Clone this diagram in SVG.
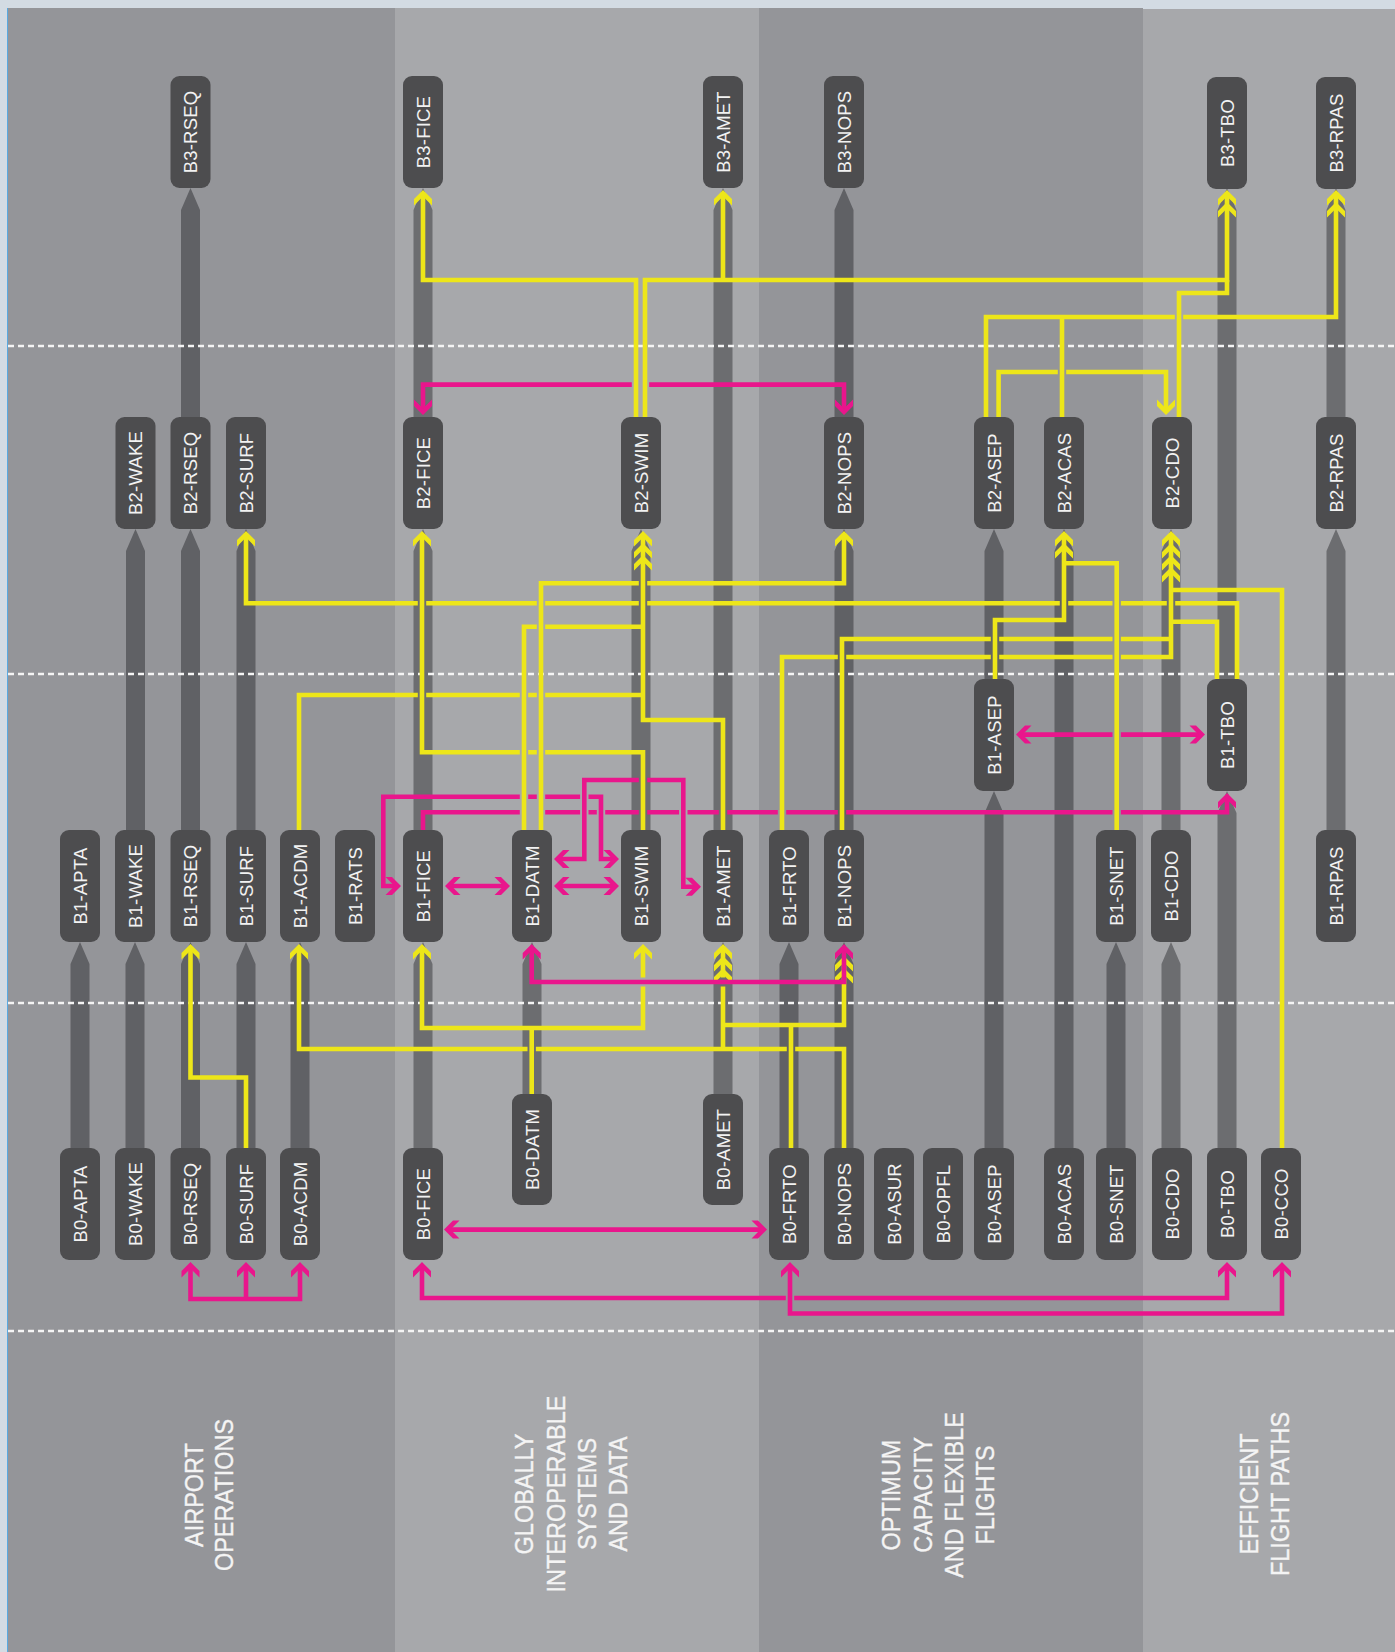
<svg xmlns="http://www.w3.org/2000/svg" xmlns:xlink="http://www.w3.org/1999/xlink" width="1395" height="1652" viewBox="0 0 1395 1652">
<style>
.bd{fill:#949599}.bl{fill:#a7a8ab}
.sd{fill:#606165}.sl{fill:#6c6d70}
.node rect{fill:#4d4d4f}
.node text{font-family:"Liberation Sans",Arial,sans-serif;font-size:18.5px;letter-spacing:0.2px;fill:#f2f2f2;text-anchor:middle}
.y{fill:none;stroke:#ede619;stroke-width:4.6;stroke-linejoin:miter}
.m{fill:none;stroke:#e9168c;stroke-width:4.6;stroke-linejoin:miter}
.cy{fill:#ede619}.cm{fill:#e9168c}
.dash{stroke:#f4f4f4;stroke-width:2.6;stroke-dasharray:6 4;fill:none}
.lbl text{font-family:"Liberation Sans",Arial,sans-serif;font-size:25.5px;fill:#f4f4f4;stroke:#f4f4f4;stroke-width:0.35;text-anchor:middle}
</style>
<defs>
<path id="ch" d="M0,0 L9,9 L9,15.5 L0,6.5 L-9,15.5 L-9,9 Z"/>
</defs>
<g id="background">
<rect x="0" y="0" width="1395" height="1652" fill="#d3dbe3"/>
<rect x="7" y="8" width="388" height="1644" class="bd"/>
<rect x="395" y="8" width="364" height="1644" class="bl"/>
<rect x="759" y="8" width="384" height="1644" class="bd"/>
<rect x="1143" y="9" width="252" height="1643" class="bl"/>
<line x1="7.5" y1="8" x2="7.5" y2="1652" stroke="#5aa9e0" stroke-width="1"/>
</g>
<g id="stems">
<path class="sd" d="M70.5,1152 V964 L80,942 L89.5,964 V1152 Z M125.5,1152 V964 L135,942 L144.5,964 V1152 Z M126,834 V551 L135.5,529 L145,551 V834 Z M181,1152 V964 L190.5,942 L200,964 V1152 Z M181,834 V551 L190.5,529 L200,551 V834 Z M181,421 V210 L190.5,188 L200,210 V421 Z M236.5,1152 V964 L246,942 L255.5,964 V1152 Z M236.5,834 V551 L246,529 L255.5,551 V834 Z M290.5,1152 V964 L300,942 L309.5,964 V1152 Z"/>
<path class="sl" d="M413.5,1152 V964 L423,942 L432.5,964 V1152 Z M413.5,834 V551 L423,529 L432.5,551 V834 Z M413.5,421 V210 L423,188 L432.5,210 V421 Z M522.5,1098 V964 L532,942 L541.5,964 V1098 Z M631.5,834 V551 L641,529 L650.5,551 V834 Z M713.5,1098 V964 L723,942 L732.5,964 V1098 Z M713.5,834 V210 L723,188 L732.5,210 V834 Z"/>
<path class="sd" d="M779.5,1152 V964 L789,942 L798.5,964 V1152 Z M834.5,1152 V964 L844,942 L853.5,964 V1152 Z M834.5,834 V551 L844,529 L853.5,551 V834 Z M834.5,421 V210 L844,188 L853.5,210 V421 Z M984.5,1152 V813 L994,791 L1003.5,813 V1152 Z M984.5,683 V551 L994,529 L1003.5,551 V683 Z M1054.5,1152 V551 L1064,529 L1073.5,551 V1152 Z M1106.5,1152 V964 L1116,942 L1125.5,964 V1152 Z"/>
<path class="sl" d="M1161.5,1152 V964 L1171,942 L1180.5,964 V1152 Z M1161.5,834 V551 L1171,529 L1180.5,551 V834 Z M1217.5,1152 V813 L1227,791 L1236.5,813 V1152 Z M1217.5,683 V210 L1227,188 L1236.5,210 V683 Z M1326.5,834 V551 L1336,529 L1345.5,551 V834 Z M1326.5,421 V210 L1336,188 L1345.5,210 V421 Z"/>
</g>
<g id="dividers">
<line class="dash" x1="8" y1="346" x2="1395" y2="346"/>
<line class="dash" x1="8" y1="674" x2="1395" y2="674"/>
<line class="dash" x1="8" y1="1003" x2="1395" y2="1003"/>
<line class="dash" x1="8" y1="1331" x2="1395" y2="1331"/>
</g>
<g id="connectors">
<path class="y" d="M636,417 V280 H423 V195"/>
<path class="y" d="M645,417 V280 H1227 V195 M723,280 V195"/>
<path class="y" d="M1179,417 V293 H1227 V280"/>
<path class="y" d="M986,417 V317 H1174.8 M1183.2,317 H1336 V195"/>
<path class="y" d="M1062,417 V317"/>
<path class="y" d="M998.6,417 V372 H1057.8 M1066.2,372 H1166 V410"/>
<path class="y" d="M1237,679 V603.3 H1175.2 M1166.8,603.3 H1120.9 M1112.5,603.3 H1068.2 M1059.8,603.3 H647.2 M638.8,603.3 H545.2 M536.8,603.3 H426.2 M417.8,603.3 H246 V536"/>
<path class="y" d="M541,830 V583.3 H638.8 M647.2,583.3 H844 V536"/>
<path class="y" d="M524,830 V626.7 H536.8 M545.2,626.7 H643"/>
<path class="y" d="M299,830 V695 H417.8 M426.2,695 H519.8 M528.2,695 H536.8 M545.2,695 H643"/>
<path class="y" d="M723,830 V720 H643 V536"/>
<path class="y" d="M643,830 V752.3 H545.2 M536.8,752.3 H528.2 M519.8,752.3 H422 V536"/>
<path class="y" d="M995,679 V620 H1064 V536"/>
<path class="y" d="M1116.7,830 V563.3 H1064"/>
<path class="y" d="M842,830 V639 H990.8 M999.2,639 H1112.5 M1120.9,639 H1171"/>
<path class="y" d="M782,830 V657 H837.8 M846.2,657 H990.8 M999.2,657 H1112.5 M1120.9,657 H1171 V536"/>
<path class="y" d="M1217,679 V621.7 H1171"/>
<path class="y" d="M1282,1148 V590 H1171"/>
<path class="y" d="M422,949 V1028 H643 V986.6 M643,977.4 V949"/>
<path class="y" d="M531.7,1094 V1028"/>
<path class="y" d="M844,1148 V1049 H795.2 M786.8,1049 H535.9 M527.5,1049 H299 V949 M723,1049 V986.6 M723,977.4 V949"/>
<path class="y" d="M791,1148 V1025 H723 M791,1025 H844 V961"/>
<path class="y" d="M246,1148 V1077.5 H190.5 V949"/>
<g class="cy">
<use xlink:href="#ch" transform="translate(423,190)"/>
<use xlink:href="#ch" transform="translate(723,190)"/>
<use xlink:href="#ch" transform="translate(1227,190)"/>
<use xlink:href="#ch" transform="translate(1227,202)"/>
<use xlink:href="#ch" transform="translate(1336,190)"/>
<use xlink:href="#ch" transform="translate(1336,202)"/>
<use xlink:href="#ch" transform="translate(1166,415) rotate(180)"/>
<use xlink:href="#ch" transform="translate(246,531)"/>
<use xlink:href="#ch" transform="translate(422,531)"/>
<use xlink:href="#ch" transform="translate(643,531)"/>
<use xlink:href="#ch" transform="translate(643,543)"/>
<use xlink:href="#ch" transform="translate(643,555)"/>
<use xlink:href="#ch" transform="translate(844,531)"/>
<use xlink:href="#ch" transform="translate(1064,531)"/>
<use xlink:href="#ch" transform="translate(1064,543)"/>
<use xlink:href="#ch" transform="translate(1171,531)"/>
<use xlink:href="#ch" transform="translate(1171,543)"/>
<use xlink:href="#ch" transform="translate(1171,555)"/>
<use xlink:href="#ch" transform="translate(1171,567)"/>
<use xlink:href="#ch" transform="translate(190.5,944)"/>
<use xlink:href="#ch" transform="translate(299,944)"/>
<use xlink:href="#ch" transform="translate(422,944)"/>
<use xlink:href="#ch" transform="translate(643,944)"/>
<use xlink:href="#ch" transform="translate(723,944)"/>
<use xlink:href="#ch" transform="translate(723,956)"/>
<use xlink:href="#ch" transform="translate(723,968)"/>
<use xlink:href="#ch" transform="translate(844,956)"/>
<use xlink:href="#ch" transform="translate(844,968)"/>
</g>
<path class="m" d="M423,410 V384.6 H631.8 M649.2,384.6 H844 V410"/>
<path class="m" d="M397,886 H383.3 V796.7 H519.8 M528.2,796.7 H536.8 M545.2,796.7 H580.1 M588.5,796.7 H601 V859 H615"/>
<path class="m" d="M558,859 H584.3 V780 H638.8 M647.2,780 H683.3 V886.7 H697"/>
<path class="m" d="M423,830 V812.3 H519.8 M545.2,812.3 H580.1 M588.5,812.3 H596.8 M605.2,812.3 H638.8 M647.2,812.3 H679.1 M687.5,812.3 H718.8 M727.2,812.3 H777.8 M786.2,812.3 H837.8 M846.2,812.3 H1112.5 M1120.9,812.3 H1227 V798"/>
<path class="m" d="M449,886 H506"/>
<path class="m" d="M558,886 H615"/>
<path class="m" d="M531.7,949 V982 H844 V949"/>
<path class="m" d="M1020,734.6 H1112.5 M1120.9,734.6 H1201"/>
<path class="m" d="M190.5,1267 V1299 H300 V1267 M246,1299 V1267"/>
<path class="m" d="M448,1229.6 H763"/>
<path class="m" d="M422,1267 V1298 H785.8 M794.2,1298 H1227 V1267"/>
<path class="m" d="M790,1267 V1313.5 H1282 V1267"/>
<g class="cm">
<use xlink:href="#ch" transform="translate(423,415) rotate(180)"/>
<use xlink:href="#ch" transform="translate(844,415) rotate(180)"/>
<use xlink:href="#ch" transform="translate(401,886) rotate(90)"/>
<use xlink:href="#ch" transform="translate(619,859) rotate(90)"/>
<use xlink:href="#ch" transform="translate(701,886.7) rotate(90)"/>
<use xlink:href="#ch" transform="translate(510,886) rotate(90)"/>
<use xlink:href="#ch" transform="translate(619,886) rotate(90)"/>
<use xlink:href="#ch" transform="translate(1205,734.6) rotate(90)"/>
<use xlink:href="#ch" transform="translate(767,1229.6) rotate(90)"/>
<use xlink:href="#ch" transform="translate(554,859) rotate(-90)"/>
<use xlink:href="#ch" transform="translate(445,886) rotate(-90)"/>
<use xlink:href="#ch" transform="translate(554,886) rotate(-90)"/>
<use xlink:href="#ch" transform="translate(1016,734.6) rotate(-90)"/>
<use xlink:href="#ch" transform="translate(444,1229.6) rotate(-90)"/>
<use xlink:href="#ch" transform="translate(1227,793)"/>
<use xlink:href="#ch" transform="translate(531.7,944)"/>
<use xlink:href="#ch" transform="translate(844,944)"/>
<use xlink:href="#ch" transform="translate(190.5,1262)"/>
<use xlink:href="#ch" transform="translate(246,1262)"/>
<use xlink:href="#ch" transform="translate(300,1262)"/>
<use xlink:href="#ch" transform="translate(422,1262)"/>
<use xlink:href="#ch" transform="translate(1227,1262)"/>
<use xlink:href="#ch" transform="translate(790,1262)"/>
<use xlink:href="#ch" transform="translate(1282,1262)"/>
</g>
</g>
<g id="nodes">
<g id="B3-RSEQ" class="node"><rect x="170.5" y="76" width="40" height="112" rx="9"/><text transform="translate(197,132) rotate(-90)">B3-RSEQ</text></g>
<g id="B3-FICE" class="node"><rect x="403" y="76" width="40" height="112" rx="9"/><text transform="translate(429.5,132) rotate(-90)">B3-FICE</text></g>
<g id="B3-AMET" class="node"><rect x="703" y="76" width="40" height="112" rx="9"/><text transform="translate(729.5,132) rotate(-90)">B3-AMET</text></g>
<g id="B3-NOPS" class="node"><rect x="824" y="76" width="40" height="112" rx="9"/><text transform="translate(850.5,132) rotate(-90)">B3-NOPS</text></g>
<g id="B3-TBO" class="node"><rect x="1207" y="77" width="40" height="112" rx="9"/><text transform="translate(1233.5,133) rotate(-90)">B3-TBO</text></g>
<g id="B3-RPAS" class="node"><rect x="1316" y="77" width="40" height="112" rx="9"/><text transform="translate(1342.5,133) rotate(-90)">B3-RPAS</text></g>

<g id="B2-WAKE" class="node"><rect x="115.5" y="417" width="40" height="112" rx="9"/><text transform="translate(142,473) rotate(-90)">B2-WAKE</text></g>
<g id="B2-RSEQ" class="node"><rect x="170.5" y="417" width="40" height="112" rx="9"/><text transform="translate(197,473) rotate(-90)">B2-RSEQ</text></g>
<g id="B2-SURF" class="node"><rect x="226" y="417" width="40" height="112" rx="9"/><text transform="translate(252.5,473) rotate(-90)">B2-SURF</text></g>
<g id="B2-FICE" class="node"><rect x="403" y="417" width="40" height="112" rx="9"/><text transform="translate(429.5,473) rotate(-90)">B2-FICE</text></g>
<g id="B2-SWIM" class="node"><rect x="621" y="417" width="40" height="112" rx="9"/><text transform="translate(647.5,473) rotate(-90)">B2-SWIM</text></g>
<g id="B2-NOPS" class="node"><rect x="824" y="417" width="40" height="112" rx="9"/><text transform="translate(850.5,473) rotate(-90)">B2-NOPS</text></g>
<g id="B2-ASEP" class="node"><rect x="974" y="417" width="40" height="112" rx="9"/><text transform="translate(1000.5,473) rotate(-90)">B2-ASEP</text></g>
<g id="B2-ACAS" class="node"><rect x="1044" y="417" width="40" height="112" rx="9"/><text transform="translate(1070.5,473) rotate(-90)">B2-ACAS</text></g>
<g id="B2-CDO" class="node"><rect x="1152" y="417" width="40" height="112" rx="9"/><text transform="translate(1178.5,473) rotate(-90)">B2-CDO</text></g>
<g id="B2-RPAS" class="node"><rect x="1316" y="417" width="40" height="112" rx="9"/><text transform="translate(1342.5,473) rotate(-90)">B2-RPAS</text></g>

<g id="B1-ASEP" class="node"><rect x="974" y="679" width="40" height="112" rx="9"/><text transform="translate(1000.5,735) rotate(-90)">B1-ASEP</text></g>
<g id="B1-TBO" class="node"><rect x="1207" y="679" width="40" height="112" rx="9"/><text transform="translate(1233.5,735) rotate(-90)">B1-TBO</text></g>

<g id="B1-APTA" class="node"><rect x="60" y="830" width="40" height="112" rx="9"/><text transform="translate(86.5,886) rotate(-90)">B1-APTA</text></g>
<g id="B1-WAKE" class="node"><rect x="115" y="830" width="40" height="112" rx="9"/><text transform="translate(141.5,886) rotate(-90)">B1-WAKE</text></g>
<g id="B1-RSEQ" class="node"><rect x="170.5" y="830" width="40" height="112" rx="9"/><text transform="translate(197,886) rotate(-90)">B1-RSEQ</text></g>
<g id="B1-SURF" class="node"><rect x="226" y="830" width="40" height="112" rx="9"/><text transform="translate(252.5,886) rotate(-90)">B1-SURF</text></g>
<g id="B1-ACDM" class="node"><rect x="280" y="830" width="40" height="112" rx="9"/><text transform="translate(306.5,886) rotate(-90)">B1-ACDM</text></g>
<g id="B1-RATS" class="node"><rect x="335" y="830" width="40" height="112" rx="9"/><text transform="translate(361.5,886) rotate(-90)">B1-RATS</text></g>
<g id="B1-FICE" class="node"><rect x="403" y="830" width="40" height="112" rx="9"/><text transform="translate(429.5,886) rotate(-90)">B1-FICE</text></g>
<g id="B1-DATM" class="node"><rect x="512" y="830" width="40" height="112" rx="9"/><text transform="translate(538.5,886) rotate(-90)">B1-DATM</text></g>
<g id="B1-SWIM" class="node"><rect x="621" y="830" width="40" height="112" rx="9"/><text transform="translate(647.5,886) rotate(-90)">B1-SWIM</text></g>
<g id="B1-AMET" class="node"><rect x="703" y="830" width="40" height="112" rx="9"/><text transform="translate(729.5,886) rotate(-90)">B1-AMET</text></g>
<g id="B1-FRTO" class="node"><rect x="769" y="830" width="40" height="112" rx="9"/><text transform="translate(795.5,886) rotate(-90)">B1-FRTO</text></g>
<g id="B1-NOPS" class="node"><rect x="824" y="830" width="40" height="112" rx="9"/><text transform="translate(850.5,886) rotate(-90)">B1-NOPS</text></g>
<g id="B1-SNET" class="node"><rect x="1096" y="830" width="40" height="112" rx="9"/><text transform="translate(1122.5,886) rotate(-90)">B1-SNET</text></g>
<g id="B1-CDO" class="node"><rect x="1151" y="830" width="40" height="112" rx="9"/><text transform="translate(1177.5,886) rotate(-90)">B1-CDO</text></g>
<g id="B1-RPAS" class="node"><rect x="1316" y="830" width="40" height="112" rx="9"/><text transform="translate(1342.5,886) rotate(-90)">B1-RPAS</text></g>

<g id="B0-DATM" class="node"><rect x="512" y="1094" width="40" height="111" rx="9"/><text transform="translate(538.5,1149.5) rotate(-90)">B0-DATM</text></g>
<g id="B0-AMET" class="node"><rect x="703" y="1094" width="40" height="111" rx="9"/><text transform="translate(729.5,1149.5) rotate(-90)">B0-AMET</text></g>

<g id="B0-APTA" class="node"><rect x="60" y="1148" width="40" height="112" rx="9"/><text transform="translate(86.5,1204) rotate(-90)">B0-APTA</text></g>
<g id="B0-WAKE" class="node"><rect x="115" y="1148" width="40" height="112" rx="9"/><text transform="translate(141.5,1204) rotate(-90)">B0-WAKE</text></g>
<g id="B0-RSEQ" class="node"><rect x="170.5" y="1148" width="40" height="112" rx="9"/><text transform="translate(197,1204) rotate(-90)">B0-RSEQ</text></g>
<g id="B0-SURF" class="node"><rect x="226" y="1148" width="40" height="112" rx="9"/><text transform="translate(252.5,1204) rotate(-90)">B0-SURF</text></g>
<g id="B0-ACDM" class="node"><rect x="280" y="1148" width="40" height="112" rx="9"/><text transform="translate(306.5,1204) rotate(-90)">B0-ACDM</text></g>
<g id="B0-FICE" class="node"><rect x="403" y="1148" width="40" height="112" rx="9"/><text transform="translate(429.5,1204) rotate(-90)">B0-FICE</text></g>
<g id="B0-FRTO" class="node"><rect x="769" y="1148" width="40" height="112" rx="9"/><text transform="translate(795.5,1204) rotate(-90)">B0-FRTO</text></g>
<g id="B0-NOPS" class="node"><rect x="824" y="1148" width="40" height="112" rx="9"/><text transform="translate(850.5,1204) rotate(-90)">B0-NOPS</text></g>
<g id="B0-ASUR" class="node"><rect x="874" y="1148" width="40" height="112" rx="9"/><text transform="translate(900.5,1204) rotate(-90)">B0-ASUR</text></g>
<g id="B0-OPFL" class="node"><rect x="923" y="1148" width="40" height="112" rx="9"/><text transform="translate(949.5,1204) rotate(-90)">B0-OPFL</text></g>
<g id="B0-ASEP" class="node"><rect x="974" y="1148" width="40" height="112" rx="9"/><text transform="translate(1000.5,1204) rotate(-90)">B0-ASEP</text></g>
<g id="B0-ACAS" class="node"><rect x="1044" y="1148" width="40" height="112" rx="9"/><text transform="translate(1070.5,1204) rotate(-90)">B0-ACAS</text></g>
<g id="B0-SNET" class="node"><rect x="1096" y="1148" width="40" height="112" rx="9"/><text transform="translate(1122.5,1204) rotate(-90)">B0-SNET</text></g>
<g id="B0-CDO" class="node"><rect x="1152" y="1148" width="40" height="112" rx="9"/><text transform="translate(1178.5,1204) rotate(-90)">B0-CDO</text></g>
<g id="B0-TBO" class="node"><rect x="1207" y="1148" width="40" height="112" rx="9"/><text transform="translate(1233.5,1204) rotate(-90)">B0-TBO</text></g>
<g id="B0-CCO" class="node"><rect x="1261" y="1148" width="40" height="112" rx="9"/><text transform="translate(1287.5,1204) rotate(-90)">B0-CCO</text></g>
</g>
<g id="band-labels" class="lbl">
<g id="label-airport">
<text transform="translate(203,1495) rotate(-90) scale(0.92,1)">AIRPORT</text>
<text transform="translate(233,1495) rotate(-90) scale(0.92,1)">OPERATIONS</text>
</g>
<g id="label-globally">
<text transform="translate(533,1494) rotate(-90) scale(0.92,1)">GLOBALLY</text>
<text transform="translate(564.5,1494) rotate(-90) scale(0.92,1)">INTEROPERABLE</text>
<text transform="translate(596,1494) rotate(-90) scale(0.92,1)">SYSTEMS</text>
<text transform="translate(627,1494) rotate(-90) scale(0.92,1)">AND DATA</text>
</g>
<g id="label-optimum">
<text transform="translate(900,1495) rotate(-90) scale(0.92,1)">OPTIMUM</text>
<text transform="translate(931.5,1495) rotate(-90) scale(0.92,1)">CAPACITY</text>
<text transform="translate(963,1495) rotate(-90) scale(0.92,1)">AND FLEXIBLE</text>
<text transform="translate(994,1495) rotate(-90) scale(0.92,1)">FLIGHTS</text>
</g>
<g id="label-efficient">
<text transform="translate(1257.5,1494) rotate(-90) scale(0.92,1)">EFFICIENT</text>
<text transform="translate(1289,1494) rotate(-90) scale(0.92,1)">FLIGHT PATHS</text>
</g>
</g>
</svg>
